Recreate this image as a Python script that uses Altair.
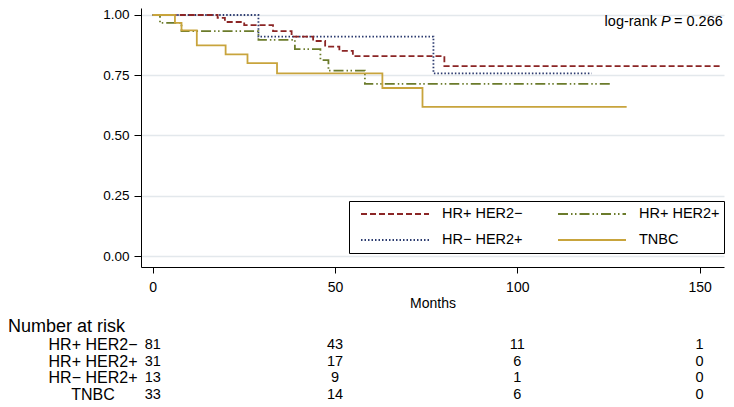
import altair as alt
import pandas as pd

FONT = "Liberation Sans"

groups = ["HR+ HER2−", "HR+ HER2+", "HR− HER2+", "TNBC"]
colors = ["#8B2525", "#6B7B2B", "#2B3A6E", "#C8A43C"]
dashes = [[6, 3], [10, 3, 1.5, 2.5, 1.5, 3], [1.5, 2], [1, 0]]

# Kaplan-Meier step curves (month, survival)
hrp_her2n_t = [0, 17.8, 19.8, 25.1, 33, 38.1, 44, 47.3, 51.2, 54.9, 80, 155.6]
hrp_her2n_s = [1, 0.988, 0.971, 0.958, 0.933, 0.91, 0.892, 0.869, 0.851, 0.829, 0.788, 0.788]
hrp_her2p_t = [0, 2, 7.9, 29, 39, 46, 48.2, 58.2, 126]
hrp_her2p_s = [1, 0.967, 0.933, 0.897, 0.858, 0.813, 0.769, 0.714, 0.714]
hrn_her2p_t = [0, 29, 77, 120.4]
hrn_her2p_s = [1, 0.91, 0.758, 0.758]
tnbc_t = [0, 6.1, 7.9, 12.1, 20, 26, 34.1, 63, 74, 130]
tnbc_s = [1, 0.967, 0.936, 0.874, 0.837, 0.80, 0.758, 0.697, 0.619, 0.619]

# numbers at risk
risk_months = [0, 50, 100, 150]
risk_hrp_her2n = [81, 43, 11, 1]
risk_hrp_her2p = [31, 17, 6, 0]
risk_hrn_her2p = [13, 9, 1, 0]
risk_tnbc = [33, 14, 6, 0]

curves = [
    ("HR− HER2+", hrn_her2p_t, hrn_her2p_s),
    ("HR+ HER2−", hrp_her2n_t, hrp_her2n_s),
    ("HR+ HER2+", hrp_her2p_t, hrp_her2p_s),
    ("TNBC", tnbc_t, tnbc_s),
]
rows = []
for g, ts, ss in curves:
    for t, s in zip(ts, ss):
        rows.append({"group": g, "month": t, "surv": s})
df = pd.DataFrame(rows)

risk_rows = []
for i, (g, vals) in enumerate(zip(groups, [risk_hrp_her2n, risk_hrp_her2p, risk_hrn_her2p, risk_tnbc])):
    for m, v in zip(risk_months, vals):
        risk_rows.append({"group": g, "row": i, "month": m, "n": str(v)})
risk_df = pd.DataFrame(risk_rows)
label_df = pd.DataFrame({"group": groups, "row": [0, 1, 2, 3]})

W, H = 583, 259
xscale = alt.Scale(domain=[-3.21, 156.7], nice=False, zero=False)
yscale = alt.Scale(domain=[-0.0456, 1.029], nice=False, zero=False)

leg = alt.Legend(
    orient="none", legendX=208, legendY=193, columns=2, direction="horizontal", title=None,
    symbolType="stroke", symbolSize=4624, symbolStrokeWidth=2, clipHeight=18,
    symbolOffset=7, labelOffset=12, columnPadding=27, rowPadding=8,
    labelFontSize=14.5, labelFont=FONT, labelColor="black", labelLimit=0,
    strokeColor="black", padding=4, fillColor="white",
)

lines = alt.Chart(df).mark_line(interpolate="step-after", strokeWidth=1.8).encode(
    x=alt.X("month:Q", scale=xscale, axis=alt.Axis(
        values=[0, 50, 100, 150], title="Months", grid=False, tickSize=6,
        labelFontSize=14, titleFontSize=14, titleFontWeight="normal",
        labelFont=FONT, titleFont=FONT, labelColor="black", titleColor="black",
        domainColor="black", tickColor="black", labelPadding=7, titlePadding=2)),
    y=alt.Y("surv:Q", scale=yscale, axis=alt.Axis(
        values=[0, 0.25, 0.5, 0.75, 1.0], format=".2f", title=None, grid=True,
        gridColor="#E3E8EC", gridWidth=1.5, tickSize=7, labelPadding=5,
        labelFontSize=13.5, labelFont=FONT, labelColor="black",
        domainColor="black", tickColor="black")),
    color=alt.Color("group:N", scale=alt.Scale(domain=groups, range=colors), legend=leg),
    strokeDash=alt.StrokeDash("group:N", scale=alt.Scale(domain=groups, range=dashes), legend=leg),
    detail="group:N",
)

rowscale = alt.Scale(domain=[0, 3], range=[337, 387], nice=False, zero=False)

risk_nums = alt.Chart(risk_df).mark_text(fontSize=14.5, font=FONT, color="black", baseline="middle").encode(
    x=alt.X("month:Q", scale=xscale),
    y=alt.Y("row:Q", scale=rowscale, axis=None),
    text="n:N",
)
risk_labels = alt.Chart(label_df).mark_text(fontSize=16, font=FONT, color="black", align="center", baseline="middle").encode(
    x=alt.value(-48),
    y=alt.Y("row:Q", scale=rowscale, axis=None),
    text="group:N",
)
risk_title = alt.Chart(pd.DataFrame({"t": ["Number at risk"]})).mark_text(
    fontSize=18, font=FONT, color="black", align="left", baseline="middle").encode(
    x=alt.value(-133), y=alt.value(319), text="t:N")

lr_df = pd.DataFrame({"t": ["log-rank"]})
p_df = pd.DataFrame({"t": ["P"]})
v_df = pd.DataFrame({"t": ["= 0.266"]})
lr1 = alt.Chart(lr_df).mark_text(fontSize=14.5, font=FONT, color="black", align="right", baseline="middle").encode(
    x=alt.value(516), y=alt.value(14), text="t:N")
lr2 = alt.Chart(p_df).mark_text(fontSize=14.5, font=FONT, fontStyle="italic", color="black", align="left", baseline="middle").encode(
    x=alt.value(520), y=alt.value(14), text="t:N")
lr3 = alt.Chart(v_df).mark_text(fontSize=14.5, font=FONT, color="black", align="left", baseline="middle").encode(
    x=alt.value(533), y=alt.value(14), text="t:N")

chart = alt.layer(lines, risk_nums, risk_labels, risk_title, lr1, lr2, lr3).resolve_scale(
    y="independent"
).properties(
    width=W, height=H,
    autosize=alt.AutoSizeParams(type="none"),
    padding={"left": 133, "top": 0, "right": 2, "bottom": 138},
).configure_view(stroke=None)

chart.save("out.html", embed_options={"renderer": "svg", "actions": False})
